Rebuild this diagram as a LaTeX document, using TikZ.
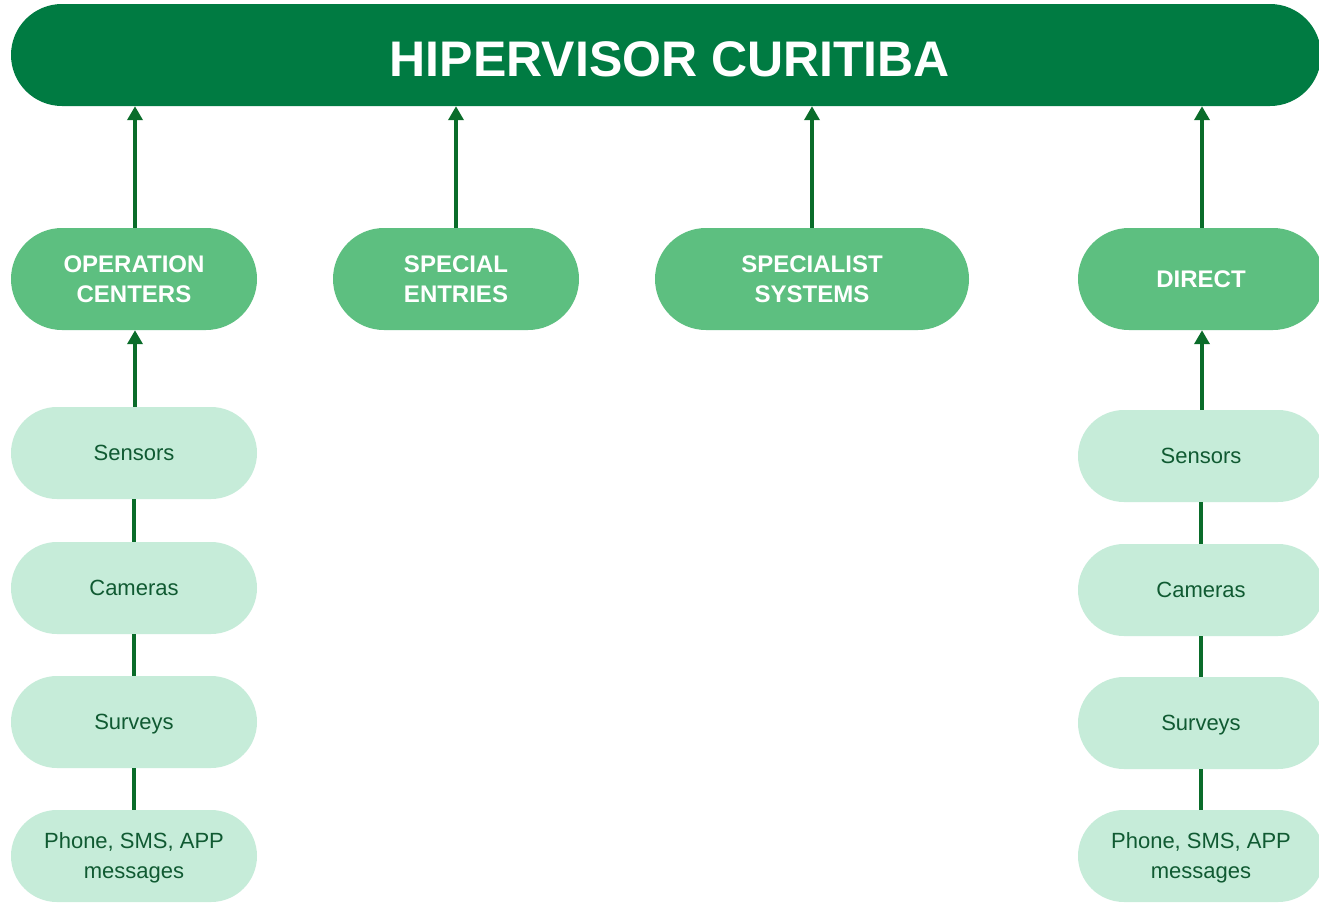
\documentclass[tikz,border=0pt]{standalone}
\usepackage{fontspec}
\setmainfont{Liberation Sans}
\usetikzlibrary{arrows.meta}
\definecolor{bardark}{RGB}{0,123,66}
\definecolor{midgreen}{RGB}{93,191,128}
\definecolor{lightgreen}{RGB}{198,236,217}
\definecolor{arrowgreen}{RGB}{10,108,42}
\definecolor{textdark}{RGB}{16,90,50}
\begin{document}
\begin{tikzpicture}[x=1pt,y=-1pt,
  topbar/.style={fill=bardark, rounded corners=51pt, minimum width=1310pt, minimum height=102pt, inner sep=0pt},
  midbox/.style={fill=midgreen, rounded corners=51pt, minimum height=102pt, minimum width=246pt, inner sep=0pt,
    text=white, font=\fontsize{24}{30}\selectfont\bfseries, align=center, text depth=0pt},
  lightbox/.style={fill=lightgreen, rounded corners=46pt, minimum height=92pt, minimum width=246pt, inner sep=0pt,
    text=textdark, font=\fontsize{22}{30}\selectfont, align=center, text depth=0pt},
  uparrow/.style={draw=arrowgreen, line width=4pt, -{Triangle[width=15pt,length=14pt]}},
  link/.style={draw=arrowgreen, line width=4pt}
]
\useasboundingbox (0,0) rectangle (1319,902);
\fill[white] (0,0) rectangle (1319,902);

\node[topbar] (top) at (666,55) {};
\node[text=white, font=\fontsize{50}{60}\selectfont\bfseries, inner sep=0pt, text depth=0pt] (title) at (670,59.5) {HIPERVISOR CURITIBA};

\node[midbox] (oc) at (134,279) {OPERATION\\CENTERS};
\node[midbox] (se) at (456,279) {SPECIAL\\ENTRIES};
\node[midbox, minimum width=314pt] (ss) at (812,279) {SPECIALIST\\SYSTEMS};
\node[midbox] (di) at (1201,279) {DIRECT};

\node[lightbox] (ls) at (134,453) {Sensors};
\node[lightbox] (lc) at (134,588) {Cameras};
\node[lightbox] (lv) at (134,722) {Surveys};
\node[lightbox] (lp) at (134,856) {Phone, SMS, APP\\messages};

\node[lightbox] (rs) at (1201,456) {Sensors};
\node[lightbox] (rc) at (1201,590) {Cameras};
\node[lightbox] (rv) at (1201,723) {Surveys};
\node[lightbox] (rp) at (1201,856) {Phone, SMS, APP\\messages};

\draw[uparrow] ([xshift=1pt]oc.north) -- ([xshift=1pt]oc.north |- top.south);
\draw[uparrow] (se.north) -- (se.north |- top.south);
\draw[uparrow] (ss.north) -- (ss.north |- top.south);
\draw[uparrow] ([xshift=1pt]di.north) -- ([xshift=1pt]di.north |- top.south);

\draw[uparrow] ([xshift=1pt]ls.north) -- ([xshift=1pt]oc.south);
\draw[uparrow] ([xshift=1pt]rs.north) -- ([xshift=1pt]di.south);

\draw[link] (ls.south) -- (lc.north);
\draw[link] (lc.south) -- (lv.north);
\draw[link] (lv.south) -- (lp.north);
\draw[link] (rs.south) -- (rc.north);
\draw[link] (rc.south) -- (rv.north);
\draw[link] (rv.south) -- (rp.north);
\end{tikzpicture}
\end{document}
